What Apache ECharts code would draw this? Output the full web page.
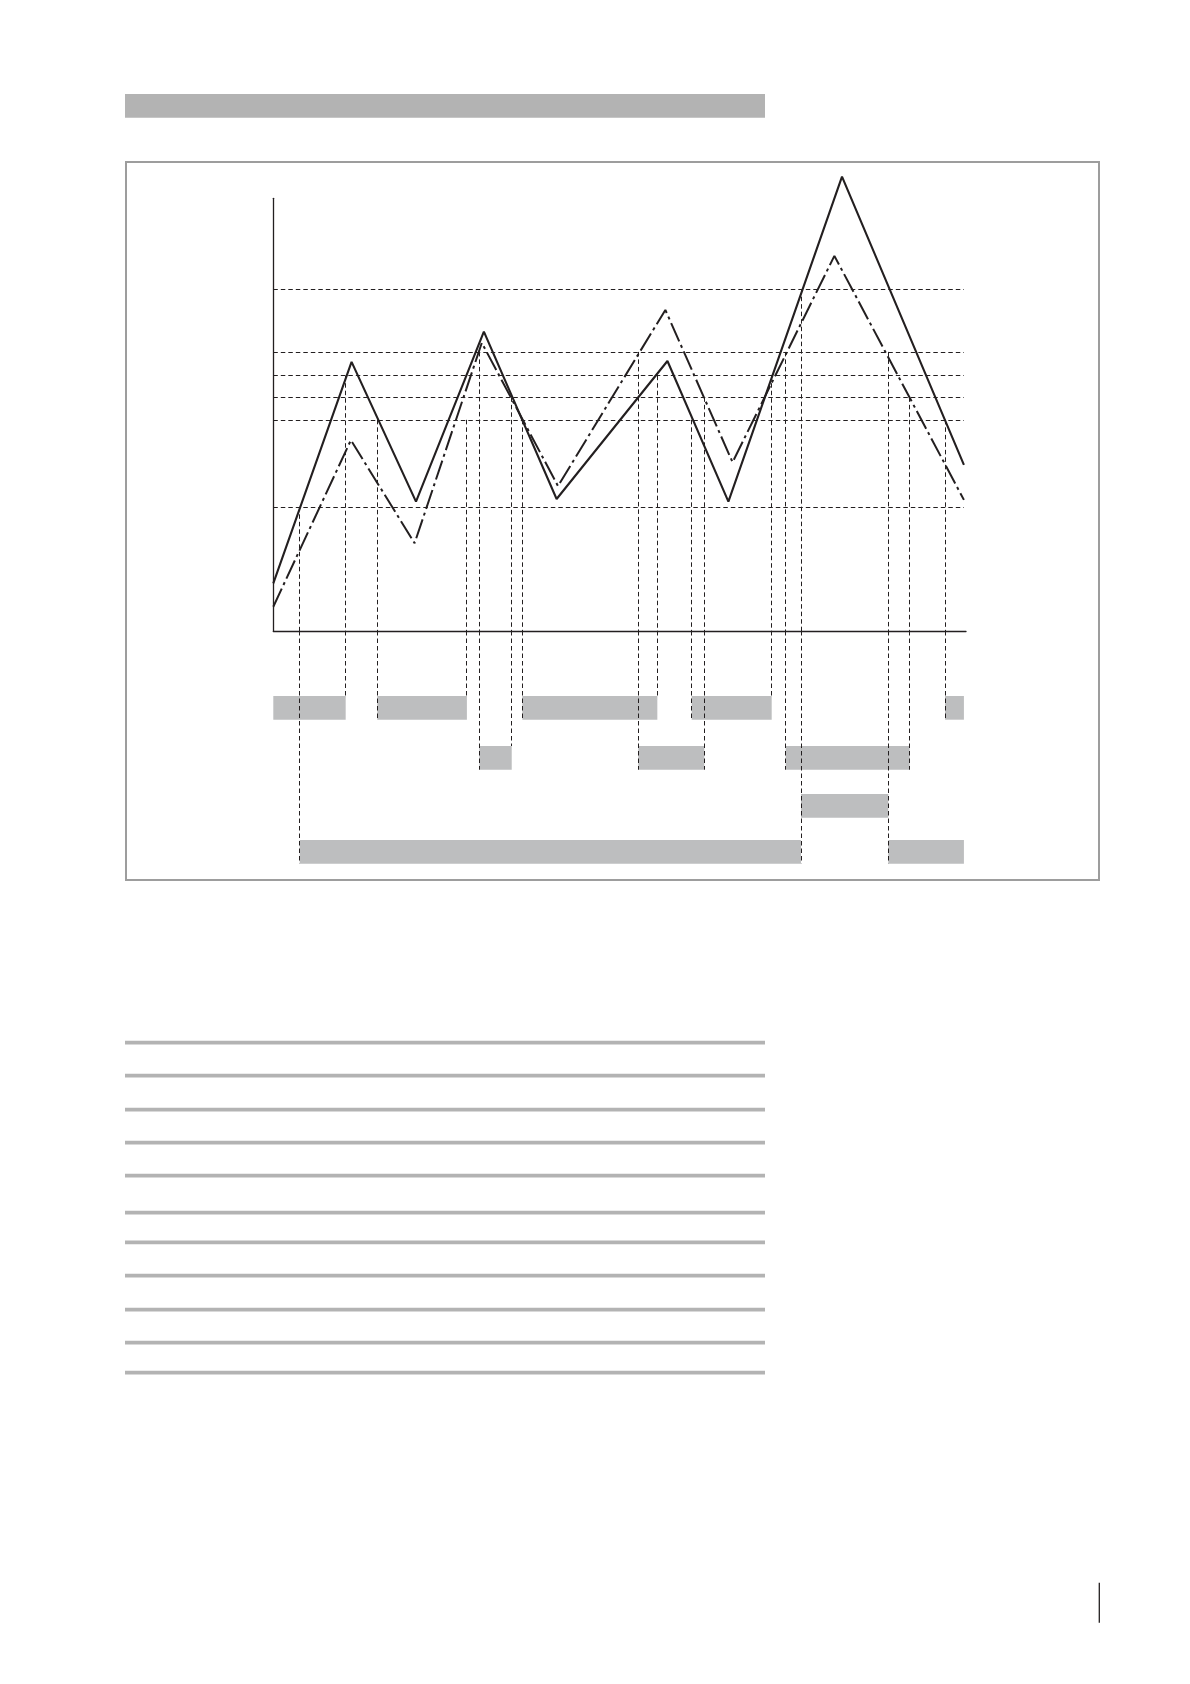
<!DOCTYPE html>
<html>
<head>
<meta charset="utf-8">
<script src="https://cdn.jsdelivr.net/npm/echarts@6/dist/echarts.min.js"></script>
<style>
  html, body { margin: 0; padding: 0; background: #ffffff; }
  #chart { width: 1190px; height: 1684px; }
</style>
</head>
<body>
<div id="chart"></div>
<script>
// ---------- DATA ----------
// Solid curve: [time, value]
const solidCurve = [[0, 11.0], [11.3, 62.2], [20.6, 29.9], [30.4, 69.2], [40.9, 30.5],
                    [56.9, 62.4], [65.7, 29.9], [82.1, 105.0], [99.7, 38.4]];
// Dash-dot curve: [time, value]
const dashDotCurve = [[0, 5.6], [11.2, 44.1], [20.4, 20.3], [30.1, 66.6], [41.1, 33.5],
                      [56.6, 74.2], [66.3, 39.0], [81.0, 86.7], [99.7, 30.3]];
// Threshold levels (horizontal dashed lines)
const thresholds = [79.0, 64.5, 59.0, 54.0, 48.8, 28.7];
const thresholdEnd = 99.7;
// Crossing times (vertical dashed lines), the threshold level they start at,
// and the depth (lower panel units) they reach
const crossTimes  = [3.81, 10.39, 15.01, 27.92, 29.74, 34.42, 35.95, 52.69, 55.44,
                     60.40, 62.22, 71.95, 73.97, 76.18, 88.78, 91.87, 96.97];
const crossLevels = [28.7, 59.0, 48.8, 48.8, 64.5, 54.0, 48.8, 64.5, 59.0,
                     48.8, 54.0, 59.0, 64.5, 79.0, 64.5, 54.0, 48.8];
const crossDepths = [232.7, 65, 88.7, 65, 138.7, 115, 88.7, 138.7, 65,
                     88.7, 138.7, 65, 138.7, 232.7, 232.7, 138.7, 88.7];
// State bars: [start, end, row]
const stateBars = [
  [0, 10.45, 0], [15.01, 27.95, 0], [35.95, 55.44, 0], [60.40, 71.95, 0], [96.97, 99.7, 0],
  [29.74, 34.42, 1], [52.69, 62.22, 1], [73.97, 91.87, 1],
  [76.18, 88.78, 2],
  [3.81, 76.18, 3], [88.78, 99.7, 3]
];

// ---------- LAYOUT / STYLE ----------
const INK = '#231f20';
const BAR_FILL = '#bdbebf';
const ROW_TOP = [65, 115, 163, 209];
const ROW_H = 23.7;
const RULES_Y = [1042.7, 1075.7, 1109.7, 1142.7, 1175.7, 1212.7, 1242.3, 1275.7, 1309.7, 1342.7, 1372.7];

const upperVerticals = crossTimes.map((t, i) => ({ coords: [[t, crossLevels[i]], [t, 0]] }));
const lowerVerticals = crossTimes.map((t, i) => ({ coords: [[t, 0], [t, crossDepths[i]]] }));
const thresholdLines = thresholds.map(v => ({ coords: [[0, v], [thresholdEnd, v]] }));

const dashed = { color: INK, width: 1, type: [4.5, 3], opacity: 1 };

const chart = echarts.init(document.getElementById('chart'), null, { renderer: 'canvas' });

chart.setOption({
  animation: false,
  backgroundColor: '#ffffff',
  grid: [
    { left: 273.3, top: 198.3, width: 692.7, height: 432.7 },
    { left: 273.3, top: 631, width: 692.7, height: 249 }
  ],
  xAxis: [
    { gridIndex: 0, type: 'value', min: 0, max: 100,
      axisLine: { show: true, onZero: false, lineStyle: { color: INK, width: 1.3 } },
      axisTick: { show: false }, axisLabel: { show: false }, splitLine: { show: false } },
    { gridIndex: 1, type: 'value', min: 0, max: 100, show: false }
  ],
  yAxis: [
    { gridIndex: 0, type: 'value', min: 0, max: 100,
      axisLine: { show: true, onZero: false, lineStyle: { color: INK, width: 1.3 } },
      axisTick: { show: false }, axisLabel: { show: false }, splitLine: { show: false } },
    { gridIndex: 1, type: 'value', min: 0, max: 249, inverse: true, show: false }
  ],
  graphic: [
    { type: 'rect', silent: true, shape: { x: 125, y: 94, width: 640, height: 23.7 },
      style: { fill: '#b3b3b3' } },
    { type: 'rect', silent: true, shape: { x: 126, y: 162, width: 973, height: 718 },
      style: { fill: 'none', stroke: '#9d9d9d', lineWidth: 2 } },
    ...RULES_Y.map(y => ({ type: 'rect', silent: true,
      shape: { x: 125, y: y - 1.85, width: 640, height: 3.7 }, style: { fill: '#b3b3b3' } })),
    { type: 'line', silent: true, shape: { x1: 1099.3, y1: 1582.7, x2: 1099.3, y2: 1622.7 },
      style: { stroke: INK, lineWidth: 1.3 } }
  ],
  series: [
    {
      type: 'custom', xAxisIndex: 1, yAxisIndex: 1, z: 1, silent: true,
      encode: { x: [0, 1], y: 2 },
      data: stateBars,
      renderItem: function (params, api) {
        const s = api.value(0), e = api.value(1), r = api.value(2);
        const p0 = api.coord([s, ROW_TOP[r]]);
        const p1 = api.coord([e, ROW_TOP[r] + ROW_H]);
        return { type: 'rect',
          shape: { x: p0[0], y: p0[1], width: p1[0] - p0[0], height: p1[1] - p0[1] },
          style: { fill: BAR_FILL } };
      }
    },
    { type: 'lines', coordinateSystem: 'cartesian2d', xAxisIndex: 0, yAxisIndex: 0, z: 2,
      silent: true, lineStyle: dashed, data: thresholdLines },
    { type: 'lines', coordinateSystem: 'cartesian2d', xAxisIndex: 0, yAxisIndex: 0, z: 2,
      silent: true, lineStyle: dashed, data: upperVerticals },
    { type: 'lines', coordinateSystem: 'cartesian2d', xAxisIndex: 1, yAxisIndex: 1, z: 2,
      silent: true, lineStyle: dashed, data: lowerVerticals },
    { type: 'line', xAxisIndex: 0, yAxisIndex: 0, z: 3, silent: true, clip: false,
      symbol: 'none', data: dashDotCurve,
      lineStyle: { color: INK, width: 2, type: [20, 4, 3, 4] } },
    { type: 'line', xAxisIndex: 0, yAxisIndex: 0, z: 4, silent: true, clip: false,
      symbol: 'none', data: solidCurve,
      lineStyle: { color: INK, width: 2.1 } }
  ]
});
</script>
</body>
</html>
